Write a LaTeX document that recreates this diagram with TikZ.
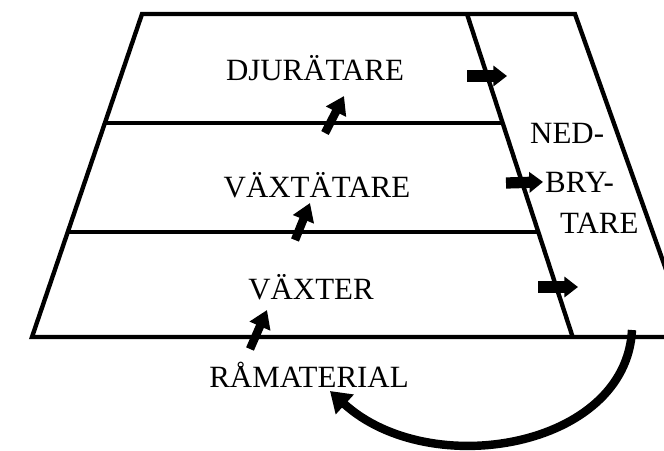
\documentclass[tikz,border=0pt]{standalone}
\usepackage{fontspec}
\setmainfont{Liberation Serif}
\usetikzlibrary{arrows.meta}
\tikzset{
  lbl/.style={font=\fontsize{22}{26}\selectfont,anchor=base,inner sep=0pt},
  stub/.style={line width=8pt,-{Triangle[length=3.4mm,width=5mm]}},
  uparr/.style={line width=6pt,-{Triangle[length=4.4mm,width=5.4mm]}},
  loop/.style={line width=6pt,-{Triangle[length=5mm,width=6.4mm]}}
}

\begin{document}
\begin{tikzpicture}[x=0.025cm,y=-0.025cm,line width=3.1pt,line join=miter]
\useasboundingbox (0,0) rectangle (664,450);
\clip (0,0) rectangle (664,450);
% pyramid
\coordinate (TL) at (142,14); \coordinate (TR) at (575,14);
\coordinate (BL) at (32,337); \coordinate (BR) at (690,337);
\coordinate (DT) at (467,14); \coordinate (DB) at (573,338);
\draw (BR)--(BL)--(TL)--(TR)--(BR);
\draw (DT)--(DB);
\draw (104,123)--(502,123);
\draw (68,232)--(538,232);
% labels
\node[lbl] (djur) at (315,80) {DJURÄTARE};
\node[lbl] (vaxt) at (317,197) {VÄXTÄTARE};
\node[lbl] (vaxter) at (311,299) {VÄXTER};
\node[lbl] (ramat) at (309,387) {RÅMATERIAL};
\node[lbl,anchor=base west] (ned) at (528,143) {NED-};
\node[lbl,anchor=base west] (bry) at (543,192) {BRY-};
\node[lbl,anchor=base west] (tare) at (558,233) {TARE};
% flows upwards
\coordinate (u1a) at (325,133); \coordinate (u1b) at (344,96);
\coordinate (u2a) at (295,240); \coordinate (u2b) at (310,203);
\coordinate (u3a) at (250,349); \coordinate (u3b) at (267,310);
\draw[uparr] (u1a)--(u1b);
\draw[uparr] (u2a)--(u2b);
\draw[uparr] (u3a)--(u3b);
% flows to decomposers
\coordinate (s1) at (467,76); \coordinate (s2) at (506,183); \coordinate (s3) at (538,287);
\draw[stub] (s1)--++(40,0);
\draw[stub] (s2)--(bry.west);
\draw[stub] (s3)--++(40,0);
% back to raw material
\coordinate (back) at (632,330);
\draw[loop] (back) .. controls (626,448) and (430,482) .. (330,391);
\end{tikzpicture}
\end{document}
